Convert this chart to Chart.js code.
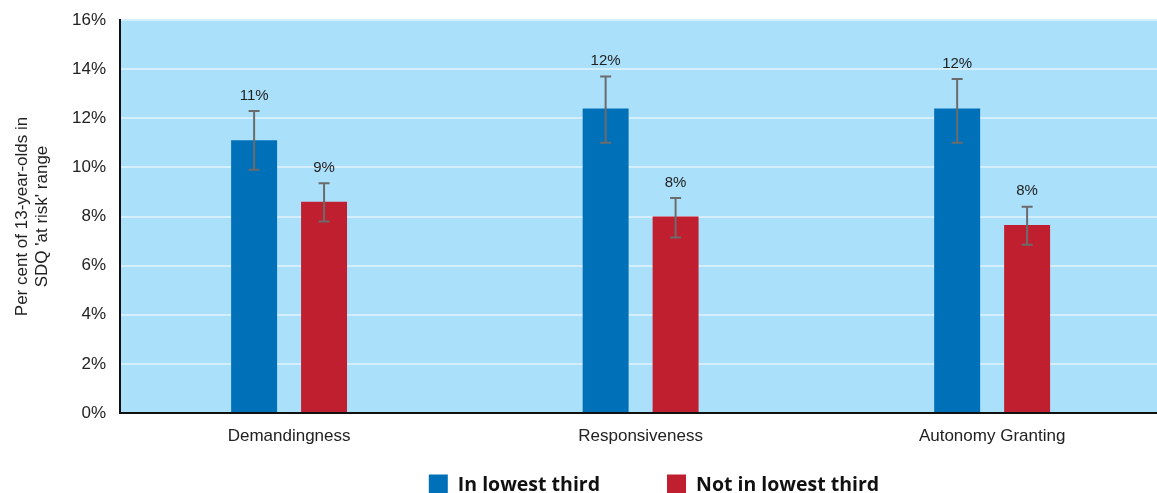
<!DOCTYPE html>
<html>
<head>
<meta charset="utf-8">
<script src="https://cdn.jsdelivr.net/npm/chart.js@4"></script>
<style>
  html, body { margin: 0; padding: 0; background: #fff; }
  #wrap { width: 1157px; height: 493px; position: relative; }
</style>
</head>
<body>
<div id="wrap"><canvas id="chart"></canvas></div>
<script>
const categories = ['Demandingness', 'Responsiveness', 'Autonomy Granting'];
const lowest = [11.1, 12.4, 12.4];
const lowestLow = [9.9, 11.0, 11.0];
const lowestHigh = [12.3, 13.7, 13.6];
const notLowest = [8.6, 8.0, 7.65];
const notLowestLow = [7.8, 7.15, 6.85];
const notLowestHigh = [9.35, 8.75, 8.4];
const lowestLabels = ['11%', '12%', '12%'];
const notLowestLabels = ['9%', '8%', '8%'];
const yTicks = [0, 2, 4, 6, 8, 10, 12, 14, 16];

const blue = '#0070b9';
const red = '#c01f2f';
const fontFam = '"Liberation Sans", Arial, sans-serif';

// light blue plot background
const plotBg = {
    id: 'plotBg',
    beforeDraw(chart) {
        const a = chart.chartArea;
        const ctx = chart.ctx;
        ctx.save();
        ctx.fillStyle = '#abe0fb';
        ctx.fillRect(a.left, a.top, a.right - a.left, a.bottom - a.top);
        ctx.restore();
    }
};

// error bars + value labels
const errBars = {
    id: 'errBars',
    afterDatasetsDraw(chart) {
        const ctx = chart.ctx;
        const y = chart.scales.y;
        const sets = [[lowestLow, lowestHigh, lowestLabels], [notLowestLow, notLowestHigh, notLowestLabels]];
        ctx.save();
        for (let d = 0; d < 2; d++) {
            const meta = chart.getDatasetMeta(d);
            meta.data.forEach(function(bar, i) {
                const x = bar.x;
                const yl = y.getPixelForValue(sets[d][0][i]);
                const yh = y.getPixelForValue(sets[d][1][i]);
                ctx.strokeStyle = '#6b6b6b';
                ctx.lineWidth = 2;
                ctx.beginPath();
                ctx.moveTo(x, yl); ctx.lineTo(x, yh);
                ctx.moveTo(x - 5.5, yl); ctx.lineTo(x + 5.5, yl);
                ctx.moveTo(x - 5.5, yh); ctx.lineTo(x + 5.5, yh);
                ctx.stroke();
                ctx.fillStyle = '#222';
                ctx.font = '15px ' + fontFam;
                ctx.textAlign = 'center';
                ctx.textBaseline = 'bottom';
                ctx.fillText(sets[d][2][i], x, yh - 8);
            });
        }
        ctx.restore();
    }
};

// legend drawn by hand so the item spacing matches
const legendBottom = {
    id: 'legendBottom',
    afterDraw(chart) {
        const ctx = chart.ctx;
        const items = chart.data.datasets;
        ctx.save();
        ctx.font = 'bold 19.5px "Open Sans", "Liberation Sans", sans-serif';
        ctx.textBaseline = 'middle';
        ctx.textAlign = 'left';
        const box = 19, gapText = 10, gapItem = 67;
        let total = 0;
        items.forEach(function(ds, i) {
            total += box + gapText + ctx.measureText(ds.label).width;
            if (i < items.length - 1) total += gapItem;
        });
        let x = 654 - total / 2;
        const cy = 484;
        items.forEach(function(ds) {
            ctx.fillStyle = ds.backgroundColor;
            ctx.fillRect(x, cy - 9.5, box, box);
            x += box + gapText;
            ctx.fillStyle = '#111';
            ctx.fillText(ds.label, x, cy + 1);
            x += ctx.measureText(ds.label).width + gapItem;
        });
        ctx.restore();
    }
};

new Chart(document.getElementById('chart'), {
    type: 'bar',
    data: {
        datasets: [
            { label: 'In lowest third', data: lowest.map((v, i) => ({ x: i, y: v })), backgroundColor: blue },
            { label: 'Not in lowest third', data: notLowest.map((v, i) => ({ x: i, y: v })), backgroundColor: red }
        ]
    },
    options: {
        responsive: true,
        maintainAspectRatio: false,
        animation: false,
        devicePixelRatio: 1,
        categoryPercentage: 0.398,
        barPercentage: 0.657,
        layout: { padding: { top: 20, right: 0, left: 13, bottom: 30 } },
        scales: {
            x: {
                type: 'linear',
                offset: false,
                min: -0.481,
                max: 2.469,
                afterBuildTicks: function(s) { s.ticks = categories.map((c, i) => ({ value: i })); },
                grid: { display: false, drawTicks: false },
                border: { display: true, color: '#111', width: 2 },
                ticks: {
                    color: '#222',
                    padding: 13,
                    autoSkip: false,
                    maxRotation: 0,
                    callback: v => categories[v],
                    font: { family: fontFam, size: 17 }
                },
                afterFit: function(s) { s.height = 50; s.paddingLeft = 0; s.paddingRight = 0; }
            },
            y: {
                min: 0,
                max: 16,
                afterBuildTicks: function(s) { s.ticks = yTicks.map(v => ({ value: v })); },
                grid: { color: '#d4eefb', lineWidth: 2, drawTicks: false },
                border: { display: true, color: '#111', width: 2 },
                ticks: {
                    color: '#222',
                    padding: 14,
                    callback: v => v + '%',
                    font: { family: fontFam, size: 17 }
                },
                title: {
                    display: true,
                    text: ["Per cent of 13-year-olds in", "SDQ 'at risk' range"],
                    color: '#222',
                    padding: { top: 0, bottom: 6 },
                    font: { family: fontFam, size: 17, lineHeight: 1.15 }
                },
                afterFit: function(s) { s.width = 107; s.paddingTop = 0; s.paddingBottom = 0; }
            }
        },
        plugins: {
            legend: { display: false },
            tooltip: { enabled: false }
        }
    },
    plugins: [plotBg, errBars, legendBottom]
});
</script>
</body>
</html>
